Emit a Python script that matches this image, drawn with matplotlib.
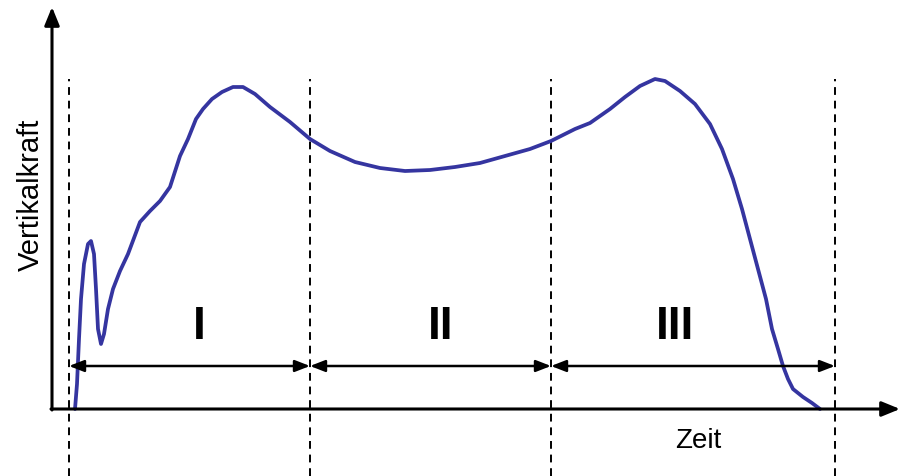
import numpy as np
import matplotlib.pyplot as plt

plt.rcParams['font.family'] = ['Liberation Sans', 'DejaVu Sans']

# curve (time, vertical force)
zeit = [75, 77, 79, 81, 84, 88, 91, 94, 96, 98, 101, 104, 108, 113, 120, 128,
        140, 150, 160, 170, 180, 188, 196, 203, 212, 222, 233, 243, 255, 270,
        290, 310, 330, 355, 380, 405, 430, 455, 480, 505, 530, 551, 575, 590,
        610, 625, 640, 655, 665, 680, 695, 710, 722, 733, 742, 750, 758, 766,
        772, 778, 783, 788, 793, 803, 812, 820]
kraft = [0, 25, 70, 110, 145, 165, 168, 155, 120, 80, 65, 75, 100, 120, 138,
         155, 187, 198, 208, 222, 253, 270, 290, 300, 310, 317, 322, 322,
         315, 302, 287, 270, 258, 247, 241, 238, 239, 242, 246, 253, 260, 268,
         280, 286, 300, 312, 323, 330, 328, 318, 305, 285, 260, 230, 200, 170,
         140, 110, 80, 60, 43, 30, 20, 12, 6, 0]

phasen_grenzen = [69, 310, 551, 835]
phasen_namen = ['I', 'II', 'III']
phasen_label_x = [199, 441, 675]

fig = plt.figure(figsize=(9, 4.77), dpi=100)
ax = fig.add_axes([0, 0, 1, 1])
ax.set_xlim(0, 900)
ax.set_ylim(-67, 410)
ax.axis('off')

# axes with arrow heads
ax.annotate('', xy=(52, 402), xytext=(52, -1),
            arrowprops=dict(arrowstyle='-|>,head_length=1.1,head_width=0.45',
                            color='black', lw=2.2, shrinkA=0, shrinkB=0))
ax.annotate('', xy=(900, 0), xytext=(51, 0),
            arrowprops=dict(arrowstyle='-|>,head_length=1.1,head_width=0.45',
                            color='black', lw=2.2, shrinkA=0, shrinkB=0))

# dashed phase boundaries
for x in phasen_grenzen:
    ax.plot([x, x], [-67, 330], color='black', lw=1.4, ls=(0, (4, 3)))

# double arrows and phase labels
for i, name in enumerate(phasen_namen):
    x0, x1 = phasen_grenzen[i], phasen_grenzen[i + 1]
    ax.annotate('', xy=(x1, 43), xytext=(x0, 43),
                arrowprops=dict(arrowstyle='<|-|>,head_length=0.9,head_width=0.35',
                                color='black', lw=1.8, shrinkA=0, shrinkB=0))
    ax.text(phasen_label_x[i], 83, name, ha='center', va='center',
            fontsize=33, fontweight='bold')

ax.plot(zeit, kraft, color='#3535a0', lw=2.7, solid_capstyle='round',
        solid_joinstyle='round')

ax.text(31, 215, 'Vertikalkraft', rotation=90, ha='center', va='center',
        fontsize=21)
ax.text(698, -31, 'Zeit', ha='center', va='center', fontsize=20)

fig.savefig('out.png', dpi=100)
